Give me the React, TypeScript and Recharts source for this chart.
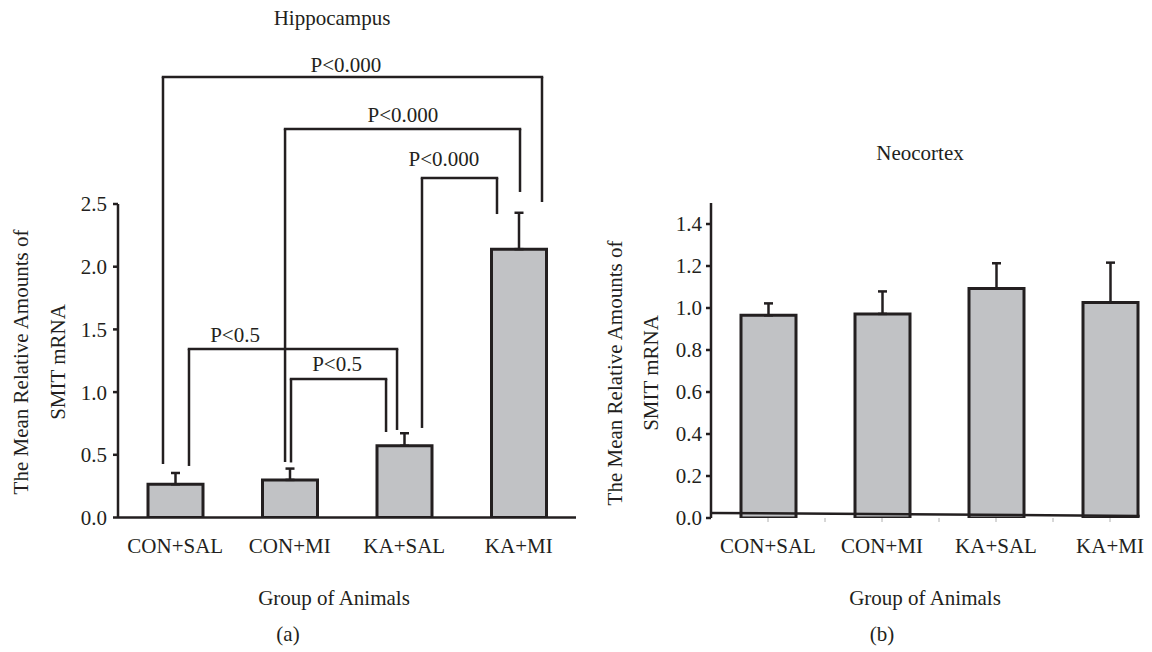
import React from 'react';
import { ComposedChart, Bar, XAxis, YAxis, ErrorBar, ReferenceLine, ReferenceDot } from 'recharts';

const categories = ['CON+SAL', 'CON+MI', 'KA+SAL', 'KA+MI'];
const hippoMeans = [0.265, 0.3, 0.572, 2.14];
const hippoErrors = [0.09, 0.09, 0.1, 0.29];
const neoMeans = [0.965, 0.972, 1.093, 1.026];
const neoErrors = [0.057, 0.107, 0.12, 0.19];
const hippoTicks = [0, 0.5, 1, 1.5, 2, 2.5];
const neoTicks = [0, 0.2, 0.4, 0.6, 0.8, 1.0, 1.2, 1.4];
const xTickPositions = [0.5, 1, 1.5, 2, 2.5, 3, 3.5];

// significance brackets (x in category-position units, y in data units)
const bracketX1 = [0.393, 1.459, 2.655, 0.62, 1.511];
const bracketX2 = [3.703, 3.511, 3.31, 2.437, 2.341];
const bracketTop = [3.513, 3.098, 2.707, 1.344, 1.104];
const bracketLeftEnd = [0.427, 0.443, 0.714, 0.411, 0.439];
const bracketRightEnd = [2.516, 2.596, 2.42, 0.698, 0.682];
const pLabels = ['P<0.000', 'P<0.000', 'P<0.000', 'P<0.5', 'P<0.5'];
const pLabelX = [1.991, 2.489, 2.847, 1.022, 1.913];
const pLabelY = [3.553, 3.154, 2.803, 1.4, 1.168];

// slightly tilted baseline drawn in panel (b)
const neoBaselineX = [0, 3.76];
const neoBaselineY = [0.024, 0.01];

const INK = '#231f20';
const BAR_FILL = '#c1c2c5';
const FONT = "'Liberation Serif', 'Times New Roman', serif";

const hippoData = categories.map((c, i) => ({
  name: c,
  pos: i + 0.5,
  value: hippoMeans[i],
  err: [0, hippoErrors[i]],
}));
const neoData = categories.map((c, i) => ({
  name: c,
  pos: i + 0.5,
  value: neoMeans[i],
  err: [0, neoErrors[i]],
}));

const catFormatter = (v: number) => {
  const i = v - 0.5;
  return Number.isInteger(i) && categories[i] ? categories[i] : '';
};

const tickStyle = { fill: INK, fontSize: 21, fontFamily: FONT };

const PText = (label: string) => (props: any) => (
  <text
    x={props.cx}
    y={props.cy}
    textAnchor="middle"
    fill={INK}
    fontSize={21}
    fontFamily={FONT}
  >
    {label}
  </text>
);

export default function App() {
  const bracketLines: React.ReactNode[] = [];
  bracketX1.forEach((x1, i) => {
    const x2 = bracketX2[i];
    const top = bracketTop[i];
    const common = {
      xAxisId: 'n',
      stroke: INK,
      strokeWidth: 2.5,
      ifOverflow: 'visible' as const,
    };
    bracketLines.push(
      <ReferenceLine key={`h${i}`} {...common} segment={[{ x: x1, y: top }, { x: x2, y: top }]} strokeLinecap="square" />,
      <ReferenceLine key={`l${i}`} {...common} segment={[{ x: x1, y: top }, { x: x1, y: bracketLeftEnd[i] }]} />,
      <ReferenceLine key={`r${i}`} {...common} segment={[{ x: x2, y: top }, { x: x2, y: bracketRightEnd[i] }]} />,
      <ReferenceDot
        key={`p${i}`}
        xAxisId="n"
        x={pLabelX[i]}
        y={pLabelY[i]}
        r={0}
        ifOverflow="visible"
        shape={PText(pLabels[i])}
      />
    );
  });

  return (
    <div style={{ position: 'absolute', left: 0, top: 0, width: 1152, height: 652, overflow: 'hidden', background: '#fff' }}>
      {/* Panel (a) */}
      <div style={{ position: 'absolute', left: 0, top: 0 }}>
        <ComposedChart
          width={600}
          height={652}
          data={hippoData}
          margin={{ top: 204, right: 24, bottom: 104.5, left: 58 }}
        >
          <XAxis
            xAxisId="n"
            dataKey="pos"
            type="number"
            domain={[0, 4]}
            ticks={xTickPositions}
            interval={0}
            tickFormatter={catFormatter}
            height={30}
            tickLine={false}
            tickSize={5}
            tickMargin={15.5}
            axisLine={{ stroke: INK, strokeWidth: 2.5 }}
            tick={tickStyle}
            allowDataOverflow
          />
          <XAxis xAxisId="c" dataKey="name" type="category" hide height={0} />
          <YAxis
            domain={[0, 2.5]}
            ticks={hippoTicks}
            interval={0}
            width={60}
            tickFormatter={(v: number) => v.toFixed(1)}
            tick={tickStyle}
            tickSize={5}
            tickMargin={6}
            tickLine={{ stroke: INK, strokeWidth: 2.5 }}
            axisLine={{ stroke: INK, strokeWidth: 2.5 }}
            allowDataOverflow
          />
          <Bar
            xAxisId="c"
            dataKey="value"
            barSize={55}
            fill={BAR_FILL}
            stroke={INK}
            strokeWidth={3}
            isAnimationActive={false}
          >
            <ErrorBar dataKey="err" direction="y" width={4.5} stroke={INK} strokeWidth={2.5} isAnimationActive={false} />
          </Bar>
          {bracketLines}
        </ComposedChart>
      </div>

      {/* Panel (b) */}
      <div style={{ position: 'absolute', left: 560, top: 0 }}>
        <ComposedChart
          width={620}
          height={652}
          data={neoData}
          margin={{ top: 203, right: 13, bottom: 104, left: 91 }}
        >
          <XAxis
            xAxisId="n"
            dataKey="pos"
            type="number"
            domain={[0, 4]}
            ticks={xTickPositions}
            interval={0}
            tickFormatter={catFormatter}
            height={30}
            tickSize={4}
            tickMargin={16.5}
            tickLine={{ stroke: '#b0b0b0', strokeWidth: 1 }}
            axisLine={false}
            tick={tickStyle}
            allowDataOverflow
          />
          <XAxis xAxisId="c" dataKey="name" type="category" hide height={0} />
          <YAxis
            domain={[0, 1.5]}
            ticks={neoTicks}
            interval={0}
            width={60}
            tickFormatter={(v: number) => v.toFixed(1)}
            tick={tickStyle}
            tickSize={5}
            tickMargin={4}
            tickLine={{ stroke: INK, strokeWidth: 2.5 }}
            axisLine={{ stroke: INK, strokeWidth: 2.5 }}
            allowDataOverflow
          />
          <Bar
            xAxisId="c"
            dataKey="value"
            barSize={55}
            fill={BAR_FILL}
            stroke={INK}
            strokeWidth={3}
            isAnimationActive={false}
          >
            <ErrorBar dataKey="err" direction="y" width={4.5} stroke={INK} strokeWidth={2.5} isAnimationActive={false} />
          </Bar>
          <ReferenceLine
            xAxisId="n"
            ifOverflow="visible"
            stroke={INK}
            strokeWidth={2.5}
            segment={[
              { x: neoBaselineX[0], y: neoBaselineY[0] },
              { x: neoBaselineX[1], y: neoBaselineY[1] },
            ]}
          />
        </ComposedChart>
      </div>

      {/* Titles and axis captions */}
      <svg
        width={1152}
        height={652}
        style={{ position: 'absolute', left: 0, top: 0, pointerEvents: 'none' }}
      >
        <g fill={INK} fontFamily={FONT} fontSize={21} textAnchor="middle">
          <text x={332} y={25}>Hippocampus</text>
          <text x={920} y={160}>Neocortex</text>
          <text transform="translate(28,362) rotate(-90)">The Mean Relative Amounts of</text>
          <text transform="translate(65,362) rotate(-90)">SMIT mRNA</text>
          <text transform="translate(622,373) rotate(-90)">The Mean Relative Amounts of</text>
          <text transform="translate(658,373) rotate(-90)">SMIT mRNA</text>
          <text x={334} y={605}>Group of Animals</text>
          <text x={925} y={605}>Group of Animals</text>
          <text x={288} y={641}>(a)</text>
          <text x={882} y={641}>(b)</text>
        </g>
      </svg>
    </div>
  );
}
